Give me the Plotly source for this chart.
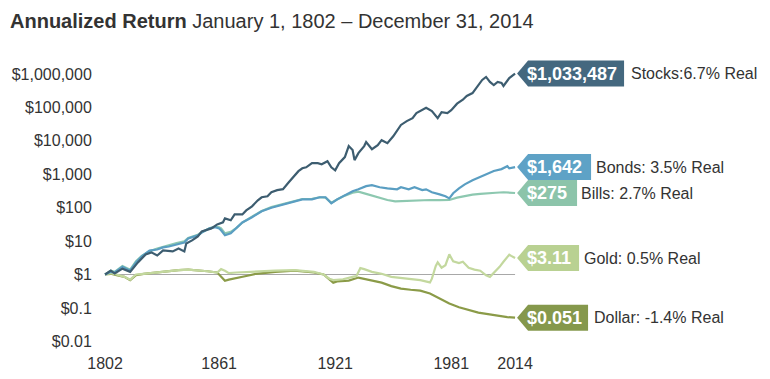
import numpy as np
import plotly.graph_objects as go

# ---------------- data ----------------
stock_years = [1802, 1805, 1807, 1811, 1815, 1819, 1823, 1826, 1829, 1832, 1837, 1840, 1843, 1844,
               1847, 1850, 1852, 1855, 1857, 1860, 1863, 1864, 1867, 1869, 1873, 1875, 1878, 1881,
               1883, 1886, 1888, 1891, 1894, 1897, 1900, 1902, 1904, 1906, 1909, 1912, 1914, 1917,
               1919, 1921, 1923, 1926, 1928, 1930, 1931, 1933, 1936, 1937, 1940, 1943, 1945, 1948,
               1951, 1955, 1958, 1961, 1963, 1966, 1968, 1971, 1974, 1976, 1979, 1981, 1984, 1987,
               1989, 1992, 1994, 1997, 1999, 2001, 2003, 2005, 2007, 2008, 2011, 2014]
stock_values = [1.0, 1.3, 1.07, 1.5, 1.2, 2.3, 4.0, 4.6, 3.7, 5.3, 4.9, 6.0, 4.9, 8.5,
                10.5, 13.8, 19.5, 22.5, 24, 31.6, 36.4, 48, 42, 63, 63, 83, 110, 166,
                205, 220, 290, 335, 358, 580, 880, 1240, 1510, 1620, 2150, 2150, 2000, 2460,
                1620, 1320, 2150, 3280, 6980, 5300, 2650, 4300, 6980, 9200, 5650, 7400, 10500, 8500,
                13700, 30000, 39000, 48000, 68000, 83000, 98000, 78000, 48000, 72000, 68000, 83000, 130000, 170000,
                220000, 270000, 380000, 665000, 820000, 580000, 470000, 580000, 540000, 440000, 760000, 1033487]

bond_years = [1802, 1805, 1807, 1811, 1815, 1818, 1821, 1825, 1829, 1832, 1835, 1839, 1843, 1845,
              1850, 1852, 1856, 1859, 1861, 1862, 1864, 1867, 1870, 1873, 1878, 1883, 1888, 1894,
              1899, 1904, 1909, 1913, 1916, 1919, 1922, 1926, 1930, 1933, 1937, 1940, 1944, 1948,
              1953, 1955, 1959, 1962, 1966, 1968, 1971, 1975, 1978, 1980, 1982, 1985, 1988, 1992,
              1996, 1999, 2003, 2007, 2010, 2011, 2014]
bond_values = [1.0, 1.2, 1.15, 1.7, 1.3, 2.3, 3.5, 5.2, 5.6, 6.5, 6.9, 8.0, 9.1, 12,
               14.8, 18, 24, 26, 24, 21, 15, 17, 24, 36, 52, 78, 100, 125,
               155, 178, 178, 205, 205, 135, 178, 235, 310, 355, 440, 470, 410, 380,
               355, 410, 355, 410, 335, 355, 290, 250, 220, 190, 270, 380, 500, 660,
               820, 1000, 1250, 1430, 1750, 1500, 1642]

bill_years = [1802, 1805, 1807, 1811, 1815, 1818, 1821, 1825, 1829, 1832, 1835, 1839, 1843, 1845,
              1850, 1852, 1856, 1859, 1861, 1862, 1864, 1867, 1870, 1873, 1878, 1883, 1888, 1894,
              1899, 1904, 1909, 1913, 1916, 1919, 1922, 1926, 1930, 1933, 1937, 1940, 1944, 1948,
              1952, 1956, 1960, 1965, 1970, 1975, 1980, 1984, 1988, 1992, 1996, 2000, 2004, 2008,
              2011, 2014]
bill_values = [1.0, 1.3, 1.2, 1.8, 1.4, 2.5, 3.6, 5.0, 6.0, 6.8, 7.5, 8.8, 9.8, 12.5,
               15.5, 18.5, 24, 27, 26, 24, 17, 19, 25, 36, 54, 80, 104, 128,
               158, 182, 185, 205, 200, 140, 175, 230, 280, 300, 260, 230, 200, 170,
               155, 160, 165, 168, 170, 168, 170, 200, 225, 245, 260, 275, 280, 290,
               283, 275]

gold_years = [1802, 1805, 1808, 1812, 1815, 1818, 1822, 1828, 1835, 1840, 1845, 1850, 1855, 1860,
              1862, 1864, 1866, 1870, 1880, 1890, 1900, 1910, 1915, 1918, 1920, 1925, 1930, 1932,
              1934, 1936, 1940, 1945, 1950, 1955, 1960, 1965, 1970, 1971, 1973, 1974, 1976, 1978,
              1980, 1982, 1985, 1987, 1990, 1993, 1996, 1999, 2001, 2003, 2006, 2008, 2011, 2012,
              2014]
gold_values = [1.0, 1.1, 1.0, 0.85, 0.7, 1.0, 1.05, 1.15, 1.25, 1.35, 1.4, 1.35, 1.25, 1.15,
               1.45, 1.3, 1.1, 1.15, 1.25, 1.3, 1.35, 1.2, 1.0, 0.75, 0.68, 0.72, 0.85, 0.9,
               1.55, 1.45, 1.2, 1.05, 0.85, 0.78, 0.72, 0.68, 0.58, 0.75, 1.8, 2.3, 1.6, 1.9,
               4.0, 2.5, 2.2, 2.4, 1.6, 1.4, 1.3, 0.95, 0.85, 1.1, 1.7, 2.4, 3.9, 3.6,
               3.11]

dollar_years = [1802, 1805, 1808, 1812, 1815, 1818, 1822, 1828, 1835, 1840, 1845, 1850, 1855, 1860,
                1862, 1864, 1866, 1870, 1875, 1880, 1890, 1900, 1910, 1915, 1918, 1920, 1922, 1928,
                1933, 1936, 1941, 1945, 1950, 1955, 1960, 1965, 1970, 1975, 1980, 1985, 1990, 1995,
                2000, 2005, 2010, 2014]
dollar_values = [1.0, 1.05, 0.95, 0.85, 0.68, 0.95, 1.05, 1.15, 1.25, 1.35, 1.4, 1.35, 1.25, 1.15,
                 0.85, 0.65, 0.7, 0.8, 0.9, 1.05, 1.2, 1.3, 1.15, 1.0, 0.7, 0.57, 0.62, 0.66,
                 0.81, 0.75, 0.66, 0.57, 0.45, 0.38, 0.35, 0.33, 0.27, 0.19, 0.135, 0.105, 0.085, 0.072,
                 0.065, 0.058, 0.053, 0.051]

series_names = ["Stocks", "Bonds", "Bills", "Gold", "Dollar"]
end_labels = ["$1,033,487", "$1,642", "$275", "$3.11", "$0.051"]
descriptions = ["Stocks:6.7% Real", "Bonds: 3.5% Real", "Bills: 2.7% Real",
                "Gold: 0.5% Real", "Dollar: -1.4% Real"]

y_tick_values = [0.01, 0.1, 1, 10, 100, 1000, 10000, 100000, 1000000]
y_tick_labels = ["$0.01", "$0.1", "$1", "$10", "$100", "$1,000", "$10,000", "$100,000", "$1,000,000"]
x_tick_values = [1802, 1861, 1921, 1981, 2014]

title_bold = "Annualized Return"
title_rest = "January 1, 1802 \u2013 December 31, 2014"

# ---------------- style ----------------
line_colors = ["#3d5d70", "#5a9ec2", "#8dc8b0", "#c3d89e", "#8b9b48"]
tag_colors = ["#44687f", "#5ea2c6", "#8cc4aa", "#b9d192", "#85984c"]
tag_widths = [109, 76, 62, 64, 73]
desc_gaps = [5, 3, 2, 3, 4]
FONT = "Liberation Sans, Arial, Helvetica, sans-serif"

# page body has an 8px default margin; figure is sized/positioned to compensate
W, H = 758, 363

all_years = [stock_years, bond_years, bill_years, gold_years, dollar_years]
all_values = [stock_values, bond_values, bill_values, gold_values, dollar_values]

fig = go.Figure()

# $1 reference line
fig.add_trace(go.Scatter(x=[1802, 2014], y=[1, 1], mode="lines",
                         line=dict(color="#a8a8a8", width=1), hoverinfo="skip",
                         showlegend=False))

for i in [4, 3, 2, 1, 0]:
    fig.add_trace(go.Scatter(x=all_years[i], y=all_values[i], mode="lines",
                             name=series_names[i],
                             line=dict(color=line_colors[i], width=2.2),
                             showlegend=False))

shapes = []
annotations = []
for i in range(5):
    yv = all_values[i][-1]
    xv = all_years[i][-1]
    w = tag_widths[i]
    h = 13
    shapes.append(dict(
        type="path", xref="x", yref="y",
        xsizemode="pixel", ysizemode="pixel",
        xanchor=xv, yanchor=yv,
        path=f"M 2,0 L 13,{h} L {w},{h} L {w},{-h} L 13,{-h} Z",
        fillcolor=tag_colors[i], line=dict(width=0), layer="above"))
    annotations.append(dict(
        x=xv, y=np.log10(yv), xref="x", yref="y",
        text=f"<b>{end_labels[i]}</b>", showarrow=False,
        xanchor="left", yanchor="middle", xshift=10,
        font=dict(family=FONT, size=18, color="white")))
    annotations.append(dict(
        x=xv, y=np.log10(yv), xref="x", yref="y",
        text=descriptions[i], showarrow=False,
        xanchor="left", yanchor="middle", xshift=w + desc_gaps[i],
        font=dict(family=FONT, size=16, color="#333333")))

fig.update_layout(
    width=W, height=H,
    margin=dict(l=92, r=14, t=42, b=26),
    paper_bgcolor="white", plot_bgcolor="white",
    font=dict(family=FONT, size=16, color="#333333"),
    title=dict(text=f"<b>{title_bold}</b> {title_rest}",
               x=2 / W, xanchor="left", xref="container",
               y=1 - 13 / H, yanchor="middle", yref="container",
               font=dict(family=FONT, size=20, color="#333333")),
    xaxis=dict(range=[1799.4, 2136.5], tickvals=x_tick_values,
               ticktext=[str(v) for v in x_tick_values],
               showgrid=False, zeroline=False, showline=False,
               automargin=False,
               ticks="outside", ticklen=4, tickcolor="rgba(0,0,0,0)",
               tickfont=dict(size=16, color="#333333")),
    yaxis=dict(type="log", range=[-2.11, 6.72], tickvals=y_tick_values,
               ticktext=y_tick_labels, showgrid=False, zeroline=False,
               showline=False, automargin=False,
               ticks="outside", ticklen=4,
               tickcolor="rgba(0,0,0,0)",
               tickfont=dict(size=16, color="#333333")),
    shapes=shapes, annotations=annotations,
    showlegend=False, hovermode=False,
)

fig.write_html("out.html")
